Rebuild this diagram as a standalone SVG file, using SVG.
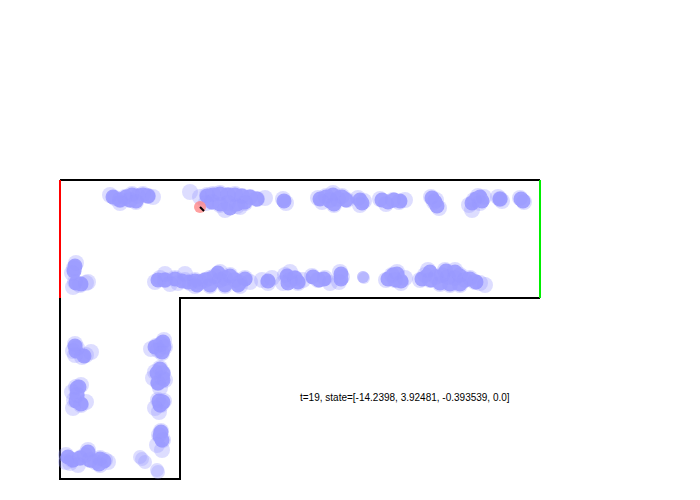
<svg xmlns="http://www.w3.org/2000/svg" width="700" height="500" viewBox="0 0 700 500">
<style>
.p{fill:#9999ff;fill-opacity:0.33}
.core{fill:#9999ff;opacity:0.85}
.core circle{r:7.5px}
.w{stroke:#000;stroke-width:2;fill:none}
.t{font-family:"Liberation Sans",Arial,sans-serif;font-size:10px;fill:#000}
</style>
<rect width="700" height="500" fill="#fff"/>
<g id="walls">
<polyline class="w" points="60,180 540,180"/>
<polyline class="w" points="540,298 180,298 180,479 60,479 60,298"/>
<line x1="60" y1="180" x2="60" y2="298" stroke="#ff0000" stroke-width="2"/>
<line x1="540" y1="180" x2="540" y2="298" stroke="#00ee00" stroke-width="2"/>
</g>
<g id="particle-cores" class="core">
<circle cx="113" cy="197" r="6"/><circle cx="120" cy="200" r="6"/><circle cx="126" cy="197" r="6"/><circle cx="132" cy="195" r="6"/><circle cx="138" cy="196" r="6"/><circle cx="143" cy="195" r="6"/><circle cx="148" cy="196" r="6"/><circle cx="130" cy="200" r="6"/><circle cx="136" cy="201" r="6"/>
<circle cx="207" cy="196" r="6"/><circle cx="213" cy="195" r="6"/><circle cx="220" cy="194" r="6"/><circle cx="228" cy="195" r="6"/><circle cx="235" cy="195" r="6"/><circle cx="242" cy="196" r="6"/><circle cx="250" cy="197" r="6"/><circle cx="257" cy="199" r="6"/><circle cx="212" cy="202" r="6"/><circle cx="220" cy="204" r="6"/><circle cx="228" cy="203" r="6"/><circle cx="237" cy="204" r="6"/><circle cx="245" cy="202" r="6"/><circle cx="230" cy="208" r="6"/>
<circle cx="284" cy="201" r="6"/>
<circle cx="320" cy="199" r="6"/><circle cx="326" cy="197" r="6"/><circle cx="330" cy="201" r="6"/><circle cx="334" cy="204" r="6"/><circle cx="338" cy="199" r="6"/><circle cx="342" cy="197" r="6"/><circle cx="346" cy="200" r="6"/><circle cx="333" cy="195" r="6"/>
<circle cx="360" cy="200" r="6"/><circle cx="362" cy="203" r="6"/>
<circle cx="382" cy="200" r="6"/><circle cx="388" cy="202" r="6"/><circle cx="394" cy="200" r="6"/><circle cx="400" cy="201" r="6"/>
<circle cx="432" cy="198" r="6"/><circle cx="435" cy="202" r="6"/><circle cx="437" cy="206" r="6"/>
<circle cx="472" cy="203" r="6"/><circle cx="476" cy="199" r="6"/><circle cx="480" cy="197" r="6"/><circle cx="482" cy="201" r="6"/>
<circle cx="500" cy="199" r="6"/>
<circle cx="521" cy="199" r="6"/><circle cx="523" cy="201" r="6"/>
<circle cx="75" cy="266" r="6"/><circle cx="74" cy="271" r="6"/><circle cx="76" cy="283" r="6"/><circle cx="81" cy="284" r="6"/>
<circle cx="158" cy="280" r="6"/><circle cx="165" cy="280" r="6"/><circle cx="175" cy="279" r="6"/><circle cx="182" cy="281" r="6"/><circle cx="188" cy="282" r="6"/><circle cx="195" cy="281" r="6"/><circle cx="200" cy="282" r="6"/><circle cx="205" cy="280" r="6"/><circle cx="210" cy="279" r="6"/><circle cx="215" cy="277" r="6"/><circle cx="220" cy="280" r="6"/><circle cx="225" cy="278" r="6"/><circle cx="230" cy="276" r="6"/><circle cx="235" cy="280" r="6"/><circle cx="240" cy="282" r="6"/><circle cx="245" cy="279" r="6"/><circle cx="197" cy="285" r="6"/><circle cx="210" cy="285" r="6"/><circle cx="225" cy="285" r="6"/><circle cx="238" cy="285" r="6"/><circle cx="218" cy="273" r="6"/>
<circle cx="268" cy="281" r="6"/>
<circle cx="287" cy="276" r="6"/><circle cx="291" cy="280" r="6"/><circle cx="295" cy="278" r="6"/><circle cx="298" cy="282" r="6"/><circle cx="288" cy="283" r="6"/>
<circle cx="313" cy="277" r="6"/><circle cx="319" cy="280" r="6"/><circle cx="324" cy="279" r="6"/>
<circle cx="341" cy="274" r="6"/><circle cx="341" cy="279" r="6"/>
<circle cx="388" cy="279" r="6"/><circle cx="393" cy="275" r="6"/><circle cx="397" cy="274" r="6"/><circle cx="396" cy="280" r="6"/><circle cx="401" cy="281" r="6"/>
<circle cx="422" cy="279" r="6"/><circle cx="427" cy="276" r="6"/><circle cx="431" cy="280" r="6"/><circle cx="436" cy="277" r="6"/><circle cx="442" cy="276" r="6"/><circle cx="448" cy="277" r="6"/><circle cx="455" cy="278" r="6"/><circle cx="460" cy="276" r="6"/><circle cx="465" cy="280" r="6"/><circle cx="470" cy="279" r="6"/><circle cx="450" cy="284" r="6"/><circle cx="440" cy="283" r="6"/><circle cx="460" cy="284" r="6"/><circle cx="430" cy="272" r="6"/><circle cx="446" cy="271" r="6"/><circle cx="455" cy="272" r="6"/><circle cx="476" cy="282" r="6"/>
<circle cx="75" cy="346" r="6"/><circle cx="76" cy="351" r="6"/><circle cx="84" cy="356" r="6"/>
<circle cx="77" cy="388" r="6"/><circle cx="79" cy="387" r="6"/><circle cx="77" cy="395" r="6"/><circle cx="76" cy="401" r="6"/><circle cx="81" cy="404" r="6"/>
<circle cx="68" cy="457" r="6"/><circle cx="73" cy="460" r="6"/><circle cx="80" cy="458" r="6"/><circle cx="86" cy="456" r="6"/><circle cx="90" cy="460" r="6"/><circle cx="95" cy="461" r="6"/><circle cx="100" cy="459" r="6"/><circle cx="104" cy="461" r="6"/><circle cx="88" cy="452" r="6"/><circle cx="99" cy="464" r="6"/>
<circle cx="155" cy="347" r="6"/><circle cx="160" cy="345" r="6"/><circle cx="164" cy="347" r="6"/><circle cx="162" cy="352" r="6"/><circle cx="163" cy="342" r="6"/>
<circle cx="157" cy="373" r="6"/><circle cx="160" cy="369" r="6"/><circle cx="161" cy="378" r="6"/><circle cx="158" cy="383" r="6"/><circle cx="163" cy="380" r="6"/><circle cx="163" cy="373" r="6"/>
<circle cx="159" cy="401" r="6"/><circle cx="160" cy="405" r="6"/><circle cx="163" cy="402" r="6"/>
<circle cx="160" cy="436" r="6"/><circle cx="162" cy="440" r="6"/><circle cx="161" cy="432" r="6"/>
</g>
<g id="particles">
<circle class="p" cx="110" cy="195" r="8"/><circle class="p" cx="115" cy="198" r="8"/><circle class="p" cx="120" cy="200" r="8"/><circle class="p" cx="125" cy="197" r="8"/><circle class="p" cx="132" cy="194" r="8"/><circle class="p" cx="138" cy="196" r="8"/><circle class="p" cx="143" cy="194" r="8"/><circle class="p" cx="148" cy="196" r="8"/><circle class="p" cx="153" cy="197" r="8"/><circle class="p" cx="130" cy="200" r="8"/><circle class="p" cx="136" cy="202" r="8"/><circle class="p" cx="120" cy="203" r="8"/>
<circle class="p" cx="190" cy="192" r="8"/>
<circle class="p" cx="200" cy="197" r="8"/><circle class="p" cx="207" cy="195" r="8"/><circle class="p" cx="213" cy="194" r="8"/><circle class="p" cx="220" cy="193" r="8"/><circle class="p" cx="228" cy="195" r="8"/><circle class="p" cx="235" cy="194" r="8"/><circle class="p" cx="242" cy="196" r="8"/><circle class="p" cx="250" cy="197" r="8"/><circle class="p" cx="257" cy="199" r="8"/><circle class="p" cx="265" cy="198" r="8"/><circle class="p" cx="212" cy="202" r="8"/><circle class="p" cx="220" cy="205" r="8"/><circle class="p" cx="228" cy="203" r="8"/><circle class="p" cx="237" cy="206" r="8"/><circle class="p" cx="245" cy="203" r="8"/><circle class="p" cx="225" cy="210" r="8"/><circle class="p" cx="240" cy="207" r="8"/><circle class="p" cx="206" cy="203" r="8"/>
<circle class="p" cx="283" cy="199" r="8"/><circle class="p" cx="286" cy="203" r="8"/>
<circle class="p" cx="318" cy="198" r="8"/><circle class="p" cx="322" cy="202" r="8"/><circle class="p" cx="326" cy="196" r="8"/><circle class="p" cx="330" cy="200" r="8"/><circle class="p" cx="334" cy="205" r="8"/><circle class="p" cx="338" cy="199" r="8"/><circle class="p" cx="342" cy="196" r="8"/><circle class="p" cx="347" cy="200" r="8"/><circle class="p" cx="333" cy="193" r="8"/>
<circle class="p" cx="358" cy="198" r="8"/><circle class="p" cx="364" cy="201" r="8"/><circle class="p" cx="360" cy="205" r="8"/>
<circle class="p" cx="380" cy="199" r="8"/><circle class="p" cx="386" cy="204" r="8"/><circle class="p" cx="393" cy="200" r="8"/><circle class="p" cx="399" cy="202" r="8"/><circle class="p" cx="405" cy="200" r="8"/>
<circle class="p" cx="431" cy="197" r="8"/><circle class="p" cx="434" cy="202" r="8"/><circle class="p" cx="439" cy="208" r="8"/><circle class="p" cx="436" cy="200" r="8"/>
<circle class="p" cx="469" cy="205" r="8"/><circle class="p" cx="474" cy="200" r="8"/><circle class="p" cx="478" cy="196" r="8"/><circle class="p" cx="484" cy="197" r="8"/><circle class="p" cx="480" cy="203" r="8"/><circle class="p" cx="472" cy="210" r="8"/>
<circle class="p" cx="498" cy="197" r="8"/><circle class="p" cx="502" cy="201" r="8"/><circle class="p" cx="500" cy="199" r="8"/>
<circle class="p" cx="520" cy="198" r="8"/><circle class="p" cx="524" cy="202" r="8"/>
<circle class="p" cx="76" cy="263" r="8"/><circle class="p" cx="74" cy="268" r="8"/><circle class="p" cx="72" cy="273" r="8"/><circle class="p" cx="75" cy="282" r="8"/><circle class="p" cx="80" cy="285" r="8"/><circle class="p" cx="86" cy="283" r="8"/><circle class="p" cx="73" cy="287" r="8"/><circle class="p" cx="88" cy="282" r="8"/>
<circle class="p" cx="155" cy="282" r="8"/><circle class="p" cx="160" cy="278" r="8"/><circle class="p" cx="165" cy="280" r="8"/><circle class="p" cx="175" cy="278" r="8"/><circle class="p" cx="178" cy="283" r="8"/><circle class="p" cx="185" cy="280" r="8"/><circle class="p" cx="190" cy="283" r="8"/><circle class="p" cx="195" cy="280" r="8"/><circle class="p" cx="200" cy="282" r="8"/><circle class="p" cx="205" cy="280" r="8"/><circle class="p" cx="210" cy="278" r="8"/><circle class="p" cx="215" cy="276" r="8"/><circle class="p" cx="220" cy="280" r="8"/><circle class="p" cx="225" cy="278" r="8"/><circle class="p" cx="230" cy="275" r="8"/><circle class="p" cx="235" cy="280" r="8"/><circle class="p" cx="240" cy="283" r="8"/><circle class="p" cx="245" cy="278" r="8"/><circle class="p" cx="250" cy="282" r="8"/><circle class="p" cx="195" cy="286" r="8"/><circle class="p" cx="210" cy="286" r="8"/><circle class="p" cx="225" cy="286" r="8"/><circle class="p" cx="240" cy="286" r="8"/><circle class="p" cx="165" cy="274" r="8"/><circle class="p" cx="185" cy="274" r="8"/><circle class="p" cx="220" cy="272" r="8"/><circle class="p" cx="170" cy="284" r="8"/>
<circle class="p" cx="262" cy="280" r="8"/><circle class="p" cx="268" cy="283" r="8"/><circle class="p" cx="272" cy="278" r="8"/>
<circle class="p" cx="285" cy="275" r="8"/><circle class="p" cx="290" cy="280" r="8"/><circle class="p" cx="295" cy="278" r="8"/><circle class="p" cx="298" cy="283" r="8"/><circle class="p" cx="303" cy="280" r="8"/><circle class="p" cx="283" cy="283" r="8"/><circle class="p" cx="290" cy="272" r="8"/>
<circle class="p" cx="312" cy="276" r="8"/><circle class="p" cx="318" cy="280" r="8"/><circle class="p" cx="325" cy="278" r="8"/><circle class="p" cx="330" cy="283" r="8"/>
<circle class="p" cx="340" cy="272" r="8"/><circle class="p" cx="342" cy="277" r="8"/><circle class="p" cx="339" cy="282" r="8"/>
<circle class="p" cx="363" cy="277" r="6"/><circle class="p" cx="364" cy="278" r="6"/><circle class="p" cx="363" cy="277" r="6"/>
<circle class="p" cx="386" cy="280" r="8"/><circle class="p" cx="392" cy="275" r="8"/><circle class="p" cx="397" cy="272" r="8"/><circle class="p" cx="395" cy="280" r="8"/><circle class="p" cx="401" cy="283" r="8"/><circle class="p" cx="405" cy="278" r="8"/>
<circle class="p" cx="420" cy="280" r="8"/><circle class="p" cx="425" cy="275" r="8"/><circle class="p" cx="430" cy="280" r="8"/><circle class="p" cx="436" cy="277" r="8"/><circle class="p" cx="442" cy="275" r="8"/><circle class="p" cx="448" cy="277" r="8"/><circle class="p" cx="455" cy="278" r="8"/><circle class="p" cx="460" cy="275" r="8"/><circle class="p" cx="465" cy="280" r="8"/><circle class="p" cx="470" cy="278" r="8"/><circle class="p" cx="475" cy="282" r="8"/><circle class="p" cx="450" cy="285" r="8"/><circle class="p" cx="440" cy="284" r="8"/><circle class="p" cx="460" cy="285" r="8"/><circle class="p" cx="480" cy="283" r="8"/><circle class="p" cx="485" cy="285" r="8"/><circle class="p" cx="428" cy="270" r="8"/><circle class="p" cx="445" cy="270" r="8"/><circle class="p" cx="455" cy="270" r="8"/>
<circle class="p" cx="75" cy="344" r="8"/><circle class="p" cx="73" cy="351" r="8"/><circle class="p" cx="77" cy="348" r="8"/><circle class="p" cx="82" cy="357" r="8"/><circle class="p" cx="86" cy="355" r="8"/><circle class="p" cx="91" cy="352" r="8"/><circle class="p" cx="75" cy="355" r="8"/>
<circle class="p" cx="76" cy="387" r="8"/><circle class="p" cx="81" cy="385" r="8"/><circle class="p" cx="77" cy="395" r="8"/><circle class="p" cx="74" cy="400" r="8"/><circle class="p" cx="81" cy="405" r="8"/><circle class="p" cx="86" cy="402" r="8"/><circle class="p" cx="73" cy="408" r="8"/><circle class="p" cx="72" cy="392" r="8"/>
<circle class="p" cx="66" cy="455" r="8"/><circle class="p" cx="72" cy="460" r="8"/><circle class="p" cx="80" cy="458" r="8"/><circle class="p" cx="85" cy="455" r="8"/><circle class="p" cx="90" cy="460" r="8"/><circle class="p" cx="95" cy="462" r="8"/><circle class="p" cx="100" cy="458" r="8"/><circle class="p" cx="105" cy="460" r="8"/><circle class="p" cx="70" cy="463" r="8"/><circle class="p" cx="108" cy="462" r="8"/><circle class="p" cx="88" cy="450" r="8"/><circle class="p" cx="78" cy="465" r="8"/><circle class="p" cx="100" cy="465" r="8"/><circle class="p" cx="66" cy="462" r="8"/>
<circle class="p" cx="151" cy="349" r="8"/><circle class="p" cx="156" cy="346" r="8"/><circle class="p" cx="161" cy="344" r="8"/><circle class="p" cx="165" cy="347" r="8"/><circle class="p" cx="162" cy="353" r="8"/><circle class="p" cx="158" cy="350" r="8"/><circle class="p" cx="164" cy="340" r="8"/>
<circle class="p" cx="155" cy="372" r="8"/><circle class="p" cx="160" cy="368" r="8"/><circle class="p" cx="162" cy="378" r="8"/><circle class="p" cx="158" cy="383" r="8"/><circle class="p" cx="165" cy="380" r="8"/><circle class="p" cx="153" cy="378" r="8"/><circle class="p" cx="160" cy="388" r="8"/><circle class="p" cx="163" cy="373" r="8"/>
<circle class="p" cx="158" cy="400" r="8"/><circle class="p" cx="161" cy="405" r="8"/><circle class="p" cx="155" cy="408" r="8"/><circle class="p" cx="164" cy="401" r="8"/><circle class="p" cx="159" cy="412" r="8"/>
<circle class="p" cx="159" cy="435" r="8"/><circle class="p" cx="163" cy="440" r="8"/><circle class="p" cx="157" cy="445" r="8"/><circle class="p" cx="161" cy="431" r="8"/><circle class="p" cx="162" cy="450" r="8"/>
<circle class="p" cx="140" cy="457" r="7"/><circle class="p" cx="145" cy="462" r="7"/><circle class="p" cx="142" cy="459" r="7"/>
<circle class="p" cx="157" cy="470" r="7"/><circle class="p" cx="158" cy="472" r="7"/>
</g>
<g id="robot">
<circle cx="200" cy="207" r="6" fill="#ff8080" fill-opacity="0.75"/>
<line x1="200" y1="207" x2="204" y2="211" stroke="#000" stroke-width="2"/>
</g>
<text class="t" x="300" y="401">t=19, state=[-14.2398, 3.92481, -0.393539, 0.0]</text>
</svg>
